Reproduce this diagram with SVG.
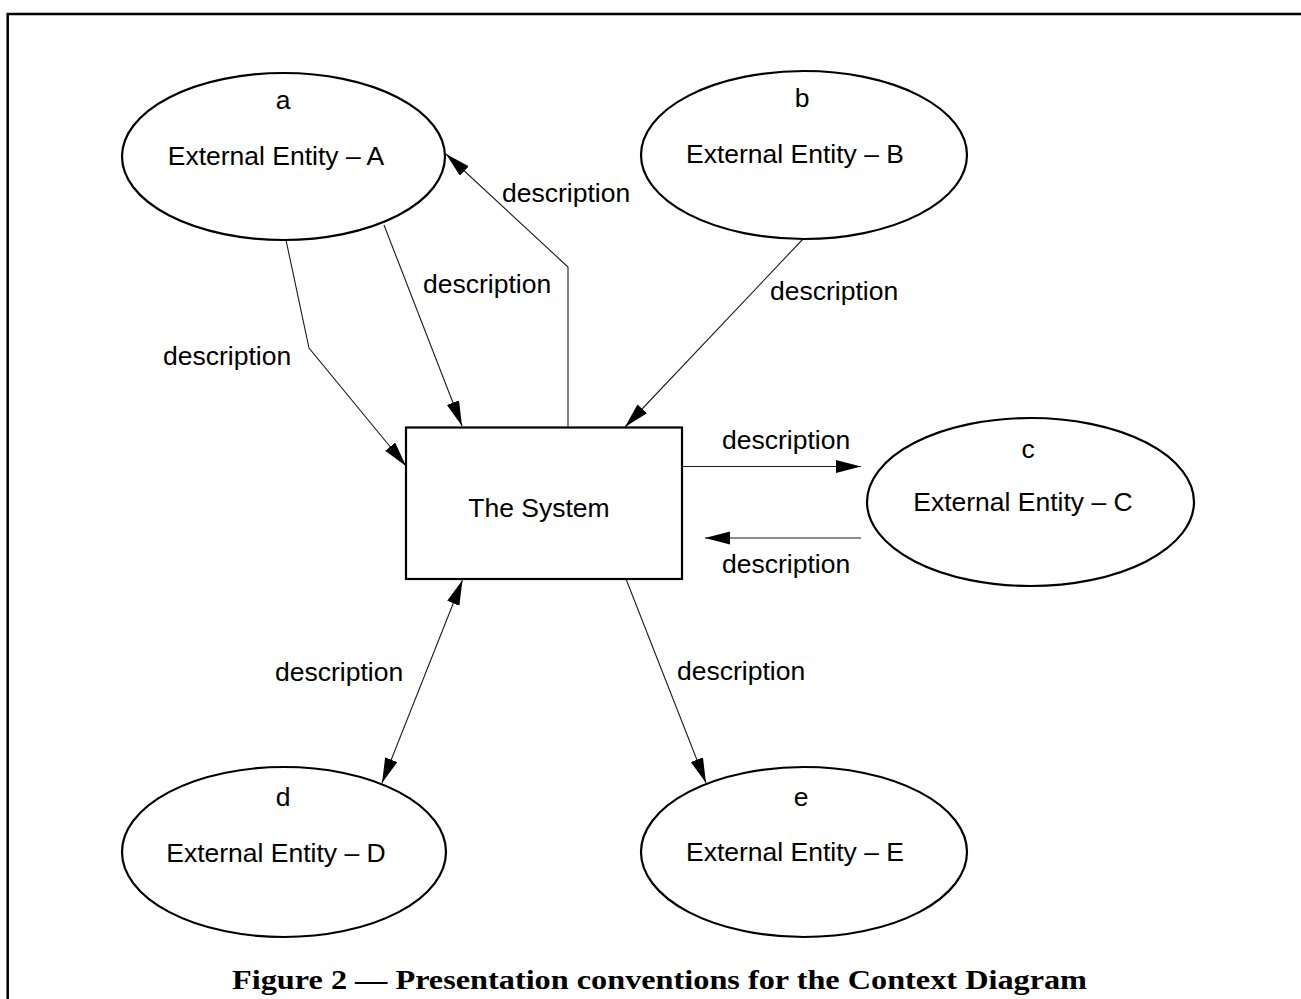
<svg xmlns="http://www.w3.org/2000/svg" width="1301" height="999" viewBox="0 0 1301 999">
  <style>
    .node { fill: #fff; stroke: #000; stroke-width: 2.2; }
    .lbl { font-family: "Liberation Sans", Arial, sans-serif; font-size: 26.5px; fill: #000; text-anchor: middle; }
    .flow { font-family: "Liberation Sans", Arial, sans-serif; font-size: 26.5px; fill: #000; }
    .wire { fill: none; stroke: #1a1a1a; stroke-width: 1.1; }
    .caption { font-family: "Liberation Serif", "Times New Roman", serif; font-weight: bold; font-size: 27px; fill: #000; }
  </style>
  <defs>
    <marker id="head" markerUnits="userSpaceOnUse" markerWidth="26" markerHeight="14" refX="25" refY="6.5" orient="auto-start-reverse" viewBox="0 0 26 14">
      <path d="M0,0 L25,6.5 L0,13 Z" fill="#000"/>
    </marker>
  </defs>

  <rect width="1301" height="999" fill="#fff"/>

  <!-- page frame: top and left rules -->
  <path d="M7.7,999 V14 H1301" fill="none" stroke="#000" stroke-width="2.5"/>

  <!-- flows between the system and the external entities -->
  <g id="connectors">
    <polyline class="wire" points="568,427 568,267 446,154" marker-end="url(#head)"/>
    <line class="wire" x1="384" y1="225" x2="462" y2="426" marker-end="url(#head)"/>
    <polyline class="wire" points="286,240 309,348 406,466" marker-end="url(#head)"/>
    <line class="wire" x1="803" y1="239" x2="625" y2="427" marker-end="url(#head)"/>
    <line class="wire" x1="682" y1="466.5" x2="861" y2="466.5" marker-end="url(#head)"/>
    <line class="wire" x1="861" y1="538" x2="705" y2="538" marker-end="url(#head)"/>
    <line class="wire" x1="462.5" y1="580" x2="382" y2="783" marker-start="url(#head)" marker-end="url(#head)"/>
    <line class="wire" x1="626" y1="579" x2="706" y2="783" marker-end="url(#head)"/>

    <text class="flow" x="502" y="202">description</text>
    <text class="flow" x="423" y="293">description</text>
    <text class="flow" x="163" y="365">description</text>
    <text class="flow" x="770" y="300">description</text>
    <text class="flow" x="722" y="449">description</text>
    <text class="flow" x="722" y="573">description</text>
    <text class="flow" x="275" y="681">description</text>
    <text class="flow" x="677" y="680">description</text>
  </g>

  <g id="system">
    <rect class="node" x="406" y="427.5" width="276" height="151.5"/>
    <text class="lbl" x="539" y="517">The System</text>
  </g>

  <g id="entity-a">
    <ellipse class="node" cx="283.5" cy="156.5" rx="161.5" ry="83.5"/>
    <text class="lbl" x="283" y="109">a</text>
    <text class="lbl" x="276" y="165">External Entity – A</text>
  </g>

  <g id="entity-b">
    <ellipse class="node" cx="804" cy="155" rx="163" ry="84"/>
    <text class="lbl" x="802" y="107">b</text>
    <text class="lbl" x="795" y="163">External Entity – B</text>
  </g>

  <g id="entity-c">
    <ellipse class="node" cx="1030.5" cy="502" rx="163.5" ry="84"/>
    <text class="lbl" x="1028" y="458">c</text>
    <text class="lbl" x="1023" y="511">External Entity – C</text>
  </g>

  <g id="entity-d">
    <ellipse class="node" cx="284" cy="852" rx="162" ry="85"/>
    <text class="lbl" x="283" y="806">d</text>
    <text class="lbl" x="276" y="862">External Entity – D</text>
  </g>

  <g id="entity-e">
    <ellipse class="node" cx="804" cy="852" rx="163" ry="85"/>
    <text class="lbl" x="801" y="806">e</text>
    <text class="lbl" x="795" y="861">External Entity – E</text>
  </g>

  <text class="caption" x="232" y="989" textLength="855" lengthAdjust="spacingAndGlyphs">Figure 2 — Presentation conventions for the Context Diagram</text>
</svg>
